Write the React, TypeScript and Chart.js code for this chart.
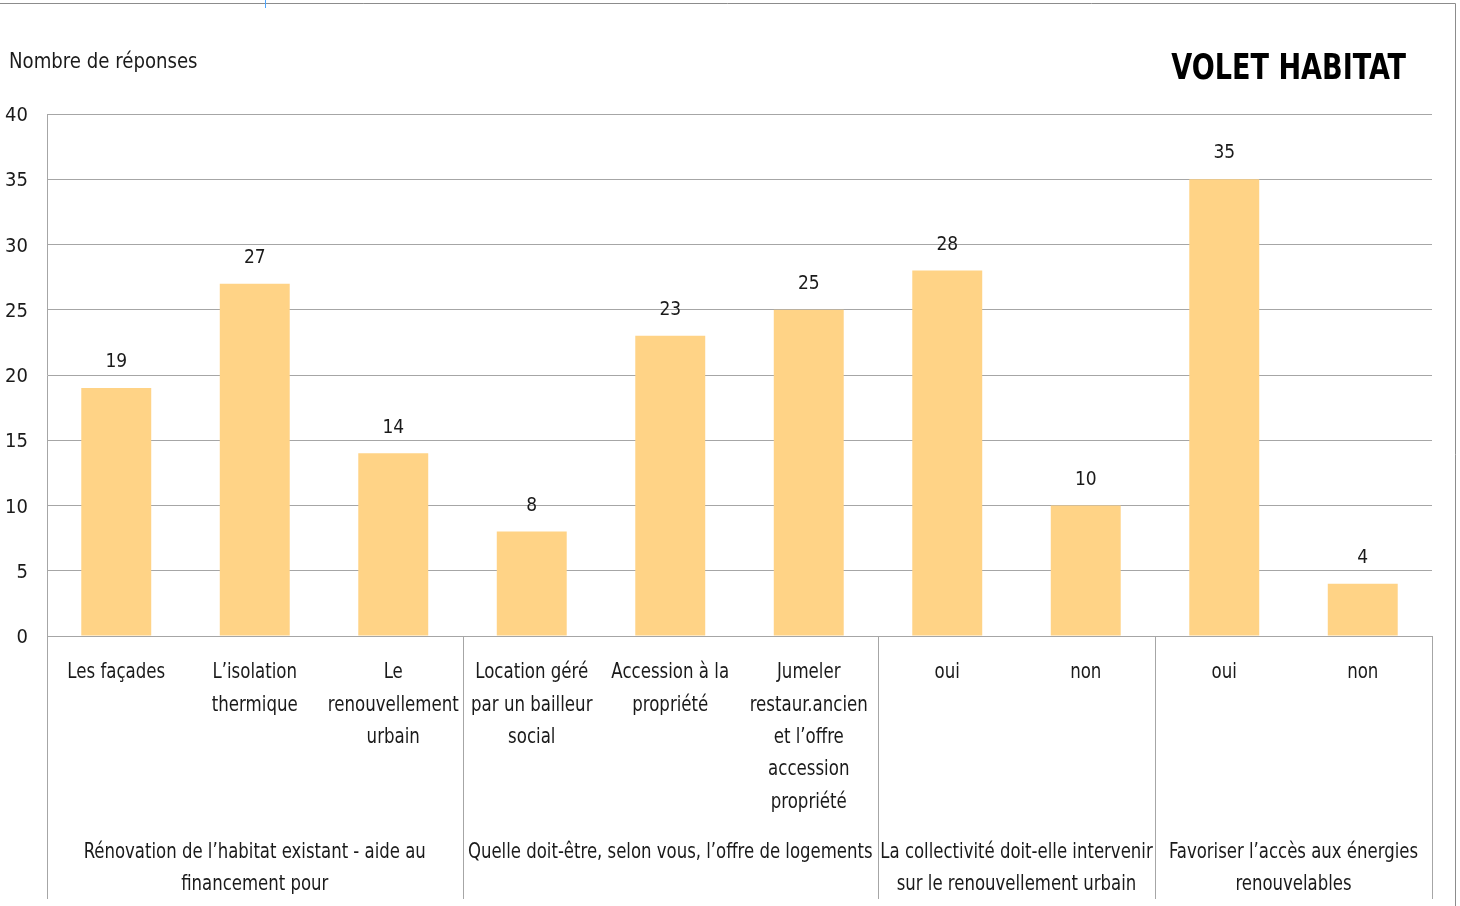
import React, { useEffect, useRef } from "react";
import { Chart, registerables } from "chart.js";

Chart.register(...registerables);

const categories: (string | string[])[] = [
  "Les façades",
  ["L’isolation", "thermique"],
  ["Le", "renouvellement", "urbain"],
  ["Location géré", "par un bailleur", "social"],
  ["Accession à la", "propriété"],
  ["Jumeler", "restaur.ancien", "et l’offre", "accession", "propriété"],
  "oui",
  "non",
  "oui",
  "non",
];

const values = [19, 27, 14, 8, 23, 25, 28, 10, 35, 4];

const groupLabels: string[][] = [
  ["Rénovation de l’habitat existant - aide au", "financement pour"],
  ["Quelle doit-être, selon vous, l’offre de logements"],
  ["La collectivité doit-elle intervenir", "sur le renouvellement urbain"],
  ["Favoriser l’accès aux énergies", "renouvelables"],
];
const groupStarts = [0, 3, 6, 8, 10];

const yTicks = [0, 5, 10, 15, 20, 25, 30, 35, 40];

const title = "VOLET HABITAT";
const yTitle = "Nombre de réponses";

const FONT = "'DejaVu Sans Condensed', 'DejaVu Sans', sans-serif";
const TEXT = "#1a1a1a";
const GRID = "#A6A6A6";

function sText(ctx: CanvasRenderingContext2D, t: string, x: number, y: number, sx: number) {
  ctx.save();
  ctx.translate(x, y);
  ctx.scale(sx, 1);
  ctx.fillText(t, 0, 0);
  ctx.restore();
}

const deco = {
  id: "deco",
  afterDraw(chart: any) {
    const ctx = chart.ctx as CanvasRenderingContext2D;
    const xs = chart.scales.x;
    const { left, right, bottom } = chart.chartArea;
    ctx.save();
    // outer frame
    ctx.strokeStyle = "#8C8C8C";
    ctx.lineWidth = 1;
    ctx.beginPath();
    ctx.moveTo(0, 3.5);
    ctx.lineTo(1455.5, 3.5);
    ctx.lineTo(1455.5, 906);
    ctx.stroke();
    ctx.strokeStyle = "#4DA6FF";
    ctx.beginPath();
    ctx.moveTo(265.5, 0);
    ctx.lineTo(265.5, 8);
    ctx.stroke();

    // group separators
    ctx.strokeStyle = GRID;
    const bx = groupStarts.map((b) => {
      if (b === 0) return left;
      if (b === categories.length) return right;
      return (xs.getPixelForValue(b - 1) + xs.getPixelForValue(b)) / 2;
    });
    bx.forEach((px) => {
      const p = Math.round(px) + 0.5;
      ctx.beginPath();
      ctx.moveTo(p, bottom);
      ctx.lineTo(p, 899);
      ctx.stroke();
    });

    ctx.fillStyle = TEXT;
    ctx.textAlign = "center";
    ctx.textBaseline = "middle";
    ctx.font = `21px ${FONT}`;

    // category labels
    (chart.data.labels as (string | string[])[]).forEach((lab, i) => {
      const lines = Array.isArray(lab) ? lab : [lab];
      const cx = xs.getPixelForValue(i);
      lines.forEach((ln, j) => sText(ctx, ln, cx, 673 + j * 32.3, 0.88));
    });

    // group labels
    groupLabels.forEach((lines, i) => {
      const cx = (bx[i] + bx[i + 1]) / 2;
      lines.forEach((ln, j) => sText(ctx, ln, cx, 853 + j * 32, 0.875));
    });

    // data labels
    ctx.font = `20px ${FONT}`;
    const meta = chart.getDatasetMeta(0);
    meta.data.forEach((bar: any, i: number) => {
      sText(ctx, String(values[i]), bar.x, bar.y - 26, 0.95);
    });

    // y title
    ctx.textAlign = "left";
    ctx.font = `21px ${FONT}`;
    sText(ctx, yTitle, 9, 63, 0.96);

    // title
    ctx.textAlign = "right";
    ctx.font = `bold 35px ${FONT}`;
    ctx.fillStyle = "#000";
    sText(ctx, title, 1406, 70, 0.86);
    ctx.restore();
  },
};

export default function App() {
  const ref = useRef<HTMLCanvasElement>(null);
  useEffect(() => {
    if (!ref.current) return;
    const chart = new Chart(ref.current, {
      type: "bar",
      data: {
        labels: categories,
        datasets: [
          {
            data: values,
            backgroundColor: "#FFD386",
            borderWidth: 0,
            barPercentage: 0.505,
            categoryPercentage: 1,
          },
        ],
      },
      options: {
        responsive: false,
        animation: false,
        devicePixelRatio: 1,
        layout: { padding: { left: 0, top: 114, right: 28, bottom: 0 } },
        plugins: { legend: { display: false }, tooltip: { enabled: false } },
        scales: {
          x: {
            grid: { display: false, drawTicks: false },
            border: { display: true, color: GRID, width: 1 },
            ticks: { display: false },
            afterFit: (s: any) => {
              s.height = 270;
            },
          },
          y: {
            min: 0,
            max: 40,
            afterBuildTicks: (s: any) => {
              s.ticks = yTicks.map((v) => ({ value: v }));
            },
            grid: { color: GRID, drawTicks: false, lineWidth: 1 },
            border: { display: true, color: GRID, width: 1 },
            ticks: {
              padding: 19,
              labelOffset: 2,
              color: TEXT,
              font: { family: FONT, size: 20 },
            },
            afterFit: (s: any) => {
              s.width = 47;
            },
          },
        },
      },
      plugins: [deco],
    });
    return () => chart.destroy();
  }, []);
  return (
    <div style={{ position: "absolute", left: 0, top: 0, width: 1460, height: 906, background: "#fff" }}>
      <canvas ref={ref} width={1460} height={906} style={{ display: "block" }} />
    </div>
  );
}
